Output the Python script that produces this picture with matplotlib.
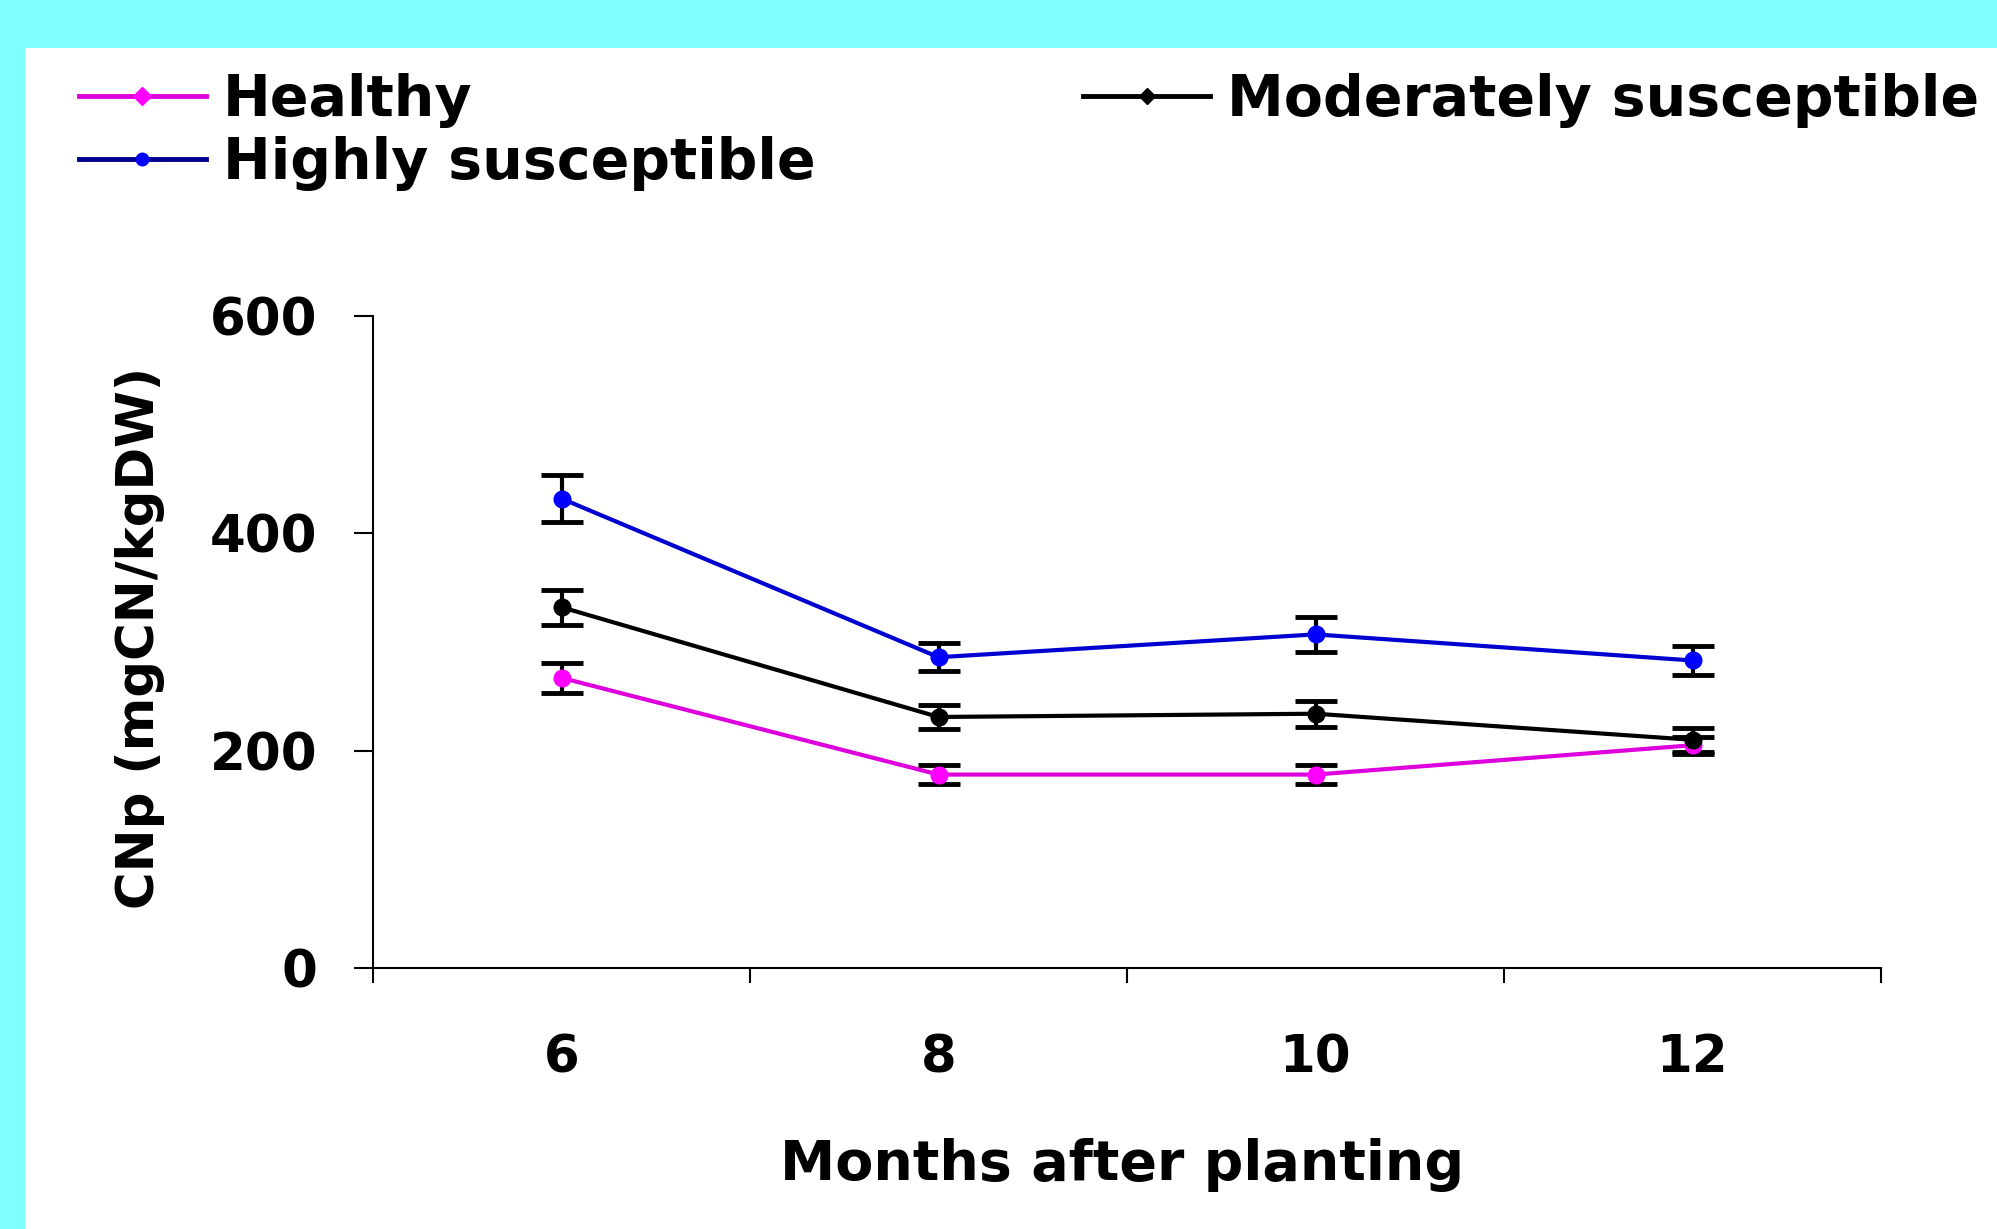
import matplotlib
matplotlib.use("Agg")
import matplotlib.pyplot as plt
from matplotlib.lines import Line2D
from matplotlib.patches import Rectangle
import numpy as np

plt.rcParams["font.family"] = ["DejaVu Sans"]
plt.rcParams["font.weight"] = "bold"

# CNp content at each sampling date
months = ["6", "8", "10", "12"]
healthy = [267, 178, 178, 205]
healthy_err = [14, 9, 9, 8]
moderate = [332, 231, 234, 210]
moderate_err = [16, 11, 12, 11]
highly = [432, 286, 307, 283]
highly_err = [22, 13, 16, 13]

series_names = ["Healthy", "Highly susceptible", "Moderately susceptible"]
y_ticks = [0, 200, 400, 600]

W, H = 1997, 1229
fig = plt.figure(figsize=(W / 100, H / 100), dpi=100)
fig.patch.set_facecolor("#7fffff")
# white panel inside the cyan frame
fig.add_artist(Rectangle((25 / W, 0), 1, 1 - 48 / H, transform=fig.transFigure,
                         facecolor="white", edgecolor="none", zorder=0))

ax = fig.add_axes([373 / W, 1 - 968 / H, (1881 - 373) / W, (968 - 316) / H])
ax.set_facecolor("none")
x = np.arange(len(months))

def draw(vals, errs, line_c, mark_c):
    ax.errorbar(x, vals, yerr=errs, fmt="none", ecolor="black", elinewidth=3,
                capsize=15, capthick=3.5, zorder=3)
    ax.plot(x, vals, color=line_c, lw=3, marker="o", ms=12,
            mfc=mark_c, mec=mark_c, zorder=4)

draw(healthy, healthy_err, "#dd00dd", "#ff00ff")
draw(moderate, moderate_err, "black", "black")
draw(highly, highly_err, "#0000d0", "#0000ff")

ax.set_xlim(-0.5, len(months) - 0.5)
ax.set_ylim(0, 600)
ax.set_yticks(y_ticks)
ax.set_xticks(np.arange(len(months) + 1) - 0.5)
ax.set_xticklabels([])
ax.set_xticks(x, minor=True)
ax.set_xticklabels(months, minor=True)
ax.tick_params(axis="y", direction="out", length=14, width=1.5, pad=26, labelsize=37)
ax.tick_params(axis="x", which="major", direction="out", length=11, width=1.5)
ax.tick_params(axis="x", which="minor", length=0, pad=47, labelsize=37)
for s in ["top", "right"]:
    ax.spines[s].set_visible(False)
for s in ["left", "bottom"]:
    ax.spines[s].set_linewidth(1.5)

ax.set_xlabel("Months after planting", fontsize=40, fontweight="bold")
ax.xaxis.label.set_va("center")
ax.xaxis.set_label_coords(0.497, -0.302)
ax.set_ylabel("CNp (mgCN/kgDW)", fontsize=37, fontweight="bold")
ax.yaxis.label.set_va("center")
ax.yaxis.set_label_coords(-0.1545, 0.506)

handles = [
    Line2D([], [], color="#dd00dd", lw=3.5, marker="D", ms=9, mfc="#ff00ff", mec="#ff00ff"),
    Line2D([], [], color="#000090", lw=3.5, marker="o", ms=9, mfc="#0000ff", mec="#0000ff"),
    Line2D([], [], color="black", lw=3.5, marker="D", ms=8, mfc="black", mec="black"),
]
ax.legend(handles, series_names, ncol=2, loc="upper left",
          bbox_to_anchor=(79 / W, 1 - 73 / H), bbox_transform=fig.transFigure,
          frameon=False, borderpad=0, borderaxespad=0, handlelength=2.23,
          handletextpad=0.3, columnspacing=4.7, labelspacing=0.14,
          numpoints=1, prop={"size": 41, "weight": "bold"})

fig.savefig("out.png", dpi=100, facecolor=fig.get_facecolor())
